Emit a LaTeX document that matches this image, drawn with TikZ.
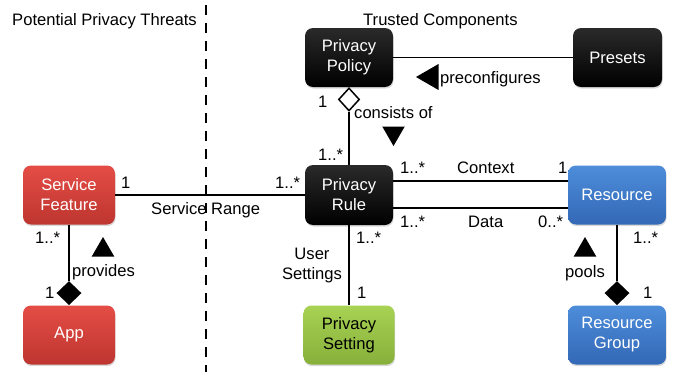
\documentclass[tikz,border=0pt]{standalone}
\usepackage{fontspec}
\setmainfont{Liberation Sans}
\setsansfont{Liberation Sans}
\usetikzlibrary{shapes.geometric,shadows}
\definecolor{ink}{HTML}{000000}
\definecolor{threattop}{HTML}{E44D46}
\definecolor{threatbot}{HTML}{BE352F}
\definecolor{restop}{HTML}{4D8DDA}
\definecolor{resbot}{HTML}{3368B6}
\definecolor{settop}{HTML}{A8D253}
\definecolor{setbot}{HTML}{86B03A}
\definecolor{trusttop}{HTML}{2A2A2A}

\begin{document}
\begin{tikzpicture}[x=1pt, y=-1pt, font=\sffamily\fontsize{16.6}{20}\selectfont,
  box/.style={rounded corners=8pt, align=center, inner sep=0,
    minimum height=59pt,
    drop shadow={opacity=0.3, shadow xshift=0.6pt, shadow yshift=-1.6pt}},
  trusted/.style={top color=trusttop, bottom color=black, text=white},
  threat/.style={top color=threattop, bottom color=threatbot, text=white},
  resource/.style={top color=restop, bottom color=resbot, text=white},
  usrset/.style={top color=settop, bottom color=setbot, text=ink},
  assoc/.style={draw=ink, line width=1.5pt},
  odia/.style={diamond, draw=ink, fill=white, line width=1.5pt, inner sep=0,
    minimum width=21pt, minimum height=23pt},
  fdia/.style={diamond, fill=ink, inner sep=0, minimum width=25pt,
    minimum height=24pt},
  dirmark/.style={regular polygon, regular polygon sides=3, fill=ink,
    inner sep=0, minimum size=26pt},
  lbl/.style={anchor=base west, inner sep=0, text=ink},
  divider/.style={draw=ink, line width=2.2pt, dash pattern=on 10pt off 8pt}]

\useasboundingbox (0,0) rectangle (678,372);

\def\xl{69}     % threat column
\def\xm{349}    % rule column
\def\xr{617}    % resource column
\def\yt{57.5}   % top row
\def\yc{195}    % middle row
\def\yb{335}    % bottom row

% ---- headings and the divider
\node[lbl] (hthreat) at (12,25) {Potential Privacy Threats};
\node[lbl] (htrust) at (363,25) {Trusted Components};
\coordinate (divtop) at (206,5);
\coordinate (divbot) at (206,372);
\draw[divider] (divtop) -- (divbot);

% ---- classes
\node[box, trusted, minimum width=88pt] (pol) at (\xm,\yt) {Privacy\\Policy};
\node[box, trusted, minimum width=89pt] (pre) at (617.5,\yt) {Presets};
\node[box, trusted, minimum width=88pt, minimum height=60pt] (rule)
  at (\xm,\yc) {Privacy\\Rule};
\node[box, threat, minimum width=92pt] (sf) at (\xl,\yc) {Service\\Feature};
\node[box, threat, minimum width=92pt] (app) at (\xl,\yb) {App};
\node[box, resource, minimum width=98pt] (res) at (\xr,\yc) {Resource};
\node[box, resource, minimum width=98pt] (rgrp) at (\xr,\yb)
  {Resource\\Group};
\node[box, usrset, minimum width=91pt] (pset) at (\xm,\yb)
  {Privacy\\Setting};

% ---- aggregation ends
\node[odia, anchor=north] (dpol) at (pol.south) {};
\node[fdia, anchor=south] (dapp) at (app.north) {};
\node[fdia, anchor=south] (dgrp) at (rgrp.north) {};

% ---- associations
\draw[assoc] (pol) -- (pre);
\draw[assoc] (dpol) -- (rule);
\draw[assoc] (sf) -- (rule);
\draw[assoc] ([yshift=14pt]rule.east) -- ([yshift=14pt]res.west);
\draw[assoc] ([yshift=-13pt]rule.east) -- ([yshift=-13pt]res.west);
\draw[assoc] (rule) -- (pset);
\draw[assoc] (sf) -- (dapp);
\draw[assoc] (res) -- (dgrp);

% ---- reading directions
\node[dirmark, minimum size=30pt, regular polygon rotate=90] (tpre)
  at (431,77) {};
\node[dirmark, regular polygon rotate=180] (tcons) at (393.5,133) {};
\node[dirmark] (tprov) at (103,250) {};
\node[dirmark] (tpool) at (585,250) {};

% ---- association names
\node[lbl] (lpre) at (440,83) {preconfigures};
\node[lbl] (lcons) at (354,118) {consists of};
\node[lbl] (lrange) at (151,214) {Service Range};
\node[lbl] (lctx) at (457,173) {Context};
\node[lbl] (ldata) at (468,227) {Data};
\node[lbl] (lprov) at (72,276) {provides};
\node[lbl] (lpool) at (565,277) {pools};
\node[align=center, inner sep=0, text=ink] (luser) at (312,265.5)
  {User\\Settings};

% ---- multiplicities
\node[lbl] (m1) at (318,107) {1};
\node[lbl] (m2) at (318,160) {1..*};
\node[lbl] (m3) at (121,188) {1};
\node[lbl] (m4) at (275,188) {1..*};
\node[lbl] (m5) at (400,173) {1..*};
\node[lbl] (m6) at (558,173) {1};
\node[lbl] (m7) at (400,227) {1..*};
\node[lbl] (m8) at (538,227) {0..*};
\node[lbl] (m9) at (356,243) {1..*};
\node[lbl] (m10) at (357,298) {1};
\node[lbl] (m11) at (633,243) {1..*};
\node[lbl] (m12) at (643,298) {1};
\node[lbl] (m13) at (35,243) {1..*};
\node[lbl] (m14) at (45,298) {1};

\end{tikzpicture}
\end{document}
